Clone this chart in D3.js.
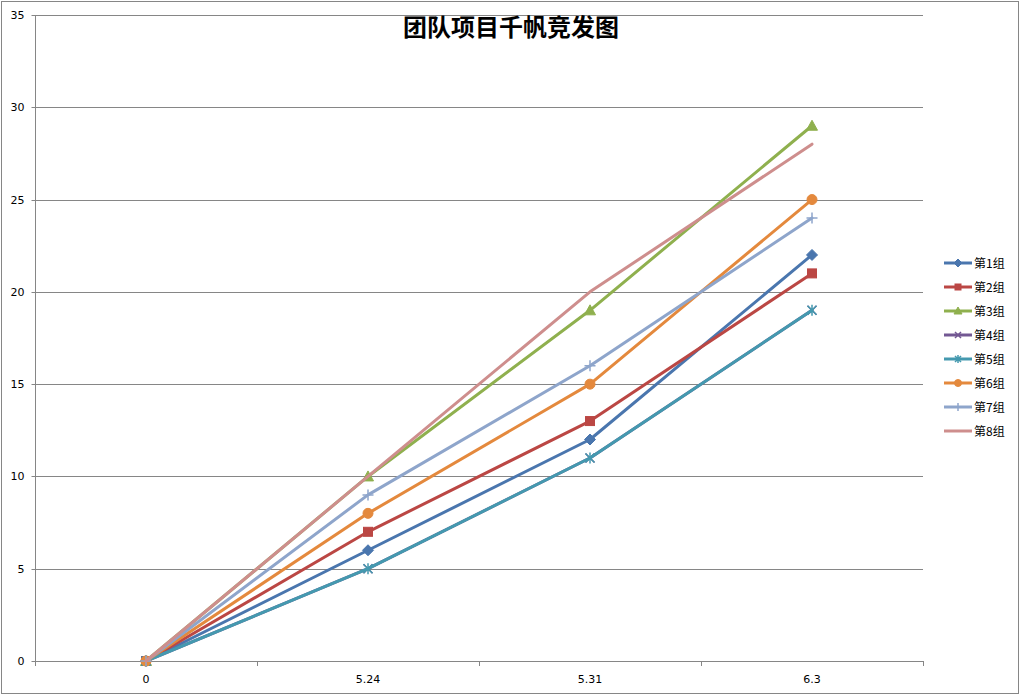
<!DOCTYPE html>
<html><head><meta charset="utf-8">
<script src="https://cdn.jsdelivr.net/npm/d3@7/dist/d3.min.js"></script>
<style>body{margin:0;background:#fff;}svg{display:block;}</style>
</head><body>
<svg id="c" width="1021" height="696"></svg>
<script>
const title = "团队项目千帆竞发图";
const categories = ["0", "5.24", "5.31", "6.3"];
const seriesNames = ["第1组","第2组","第3组","第4组","第5组","第6组","第7组","第8组"];
const g1 = [0, 6, 12, 22];
const g2 = [0, 7, 13, 21];
const g3 = [0, 10, 19, 29];
const g4 = [0, 5, 11, 19];
const g5 = [0, 5, 11, 19];
const g6 = [0, 8, 15, 25];
const g7 = [0, 9, 16, 24];
const g8 = [0, 10, 20, 28];
const yTicks = [0, 5, 10, 15, 20, 25, 30, 35];
const colors = ["#4A76AE","#BB4744","#8FB04E","#735893","#4499AF","#E4893D","#8EA5CB","#CE8E8D"];
const markers = ["diamond","square","triangle","x","star","circle","plus","none"];
const seriesValues = [g1,g2,g3,g4,g5,g6,g7,g8];

(function(){
const svg = d3.select("#c");
const W = 1021, H = 696;
svg.append("rect").attr("x",1.5).attr("y",1.5).attr("width",W-4).attr("height",H-4)
  .attr("fill","#fff").attr("stroke","#868686").attr("stroke-width",1);

const pL = 35, pR = 923, pT = 15, pB = 661;
const x = d3.scaleBand().domain(categories).range([pL, pR]);
const y = d3.scaleLinear().domain([0, 35]).range([pB, pT]);

svg.append("g").selectAll("line").data(yTicks.filter(d=>d>0)).join("line")
  .attr("x1", pL).attr("x2", pR)
  .attr("y1", d=>Math.round(y(d))+0.5).attr("y2", d=>Math.round(y(d))+0.5)
  .attr("stroke","#868686").attr("stroke-width",1);

const yAxis = svg.append("g").attr("transform",`translate(${pL+0.5},0)`)
  .call(d3.axisLeft(y).tickValues(yTicks).tickSize(4).tickPadding(7).tickFormat(d3.format("d")));
yAxis.select(".domain").attr("stroke","#868686").attr("d",`M0,${pT}V${pB}`);
yAxis.selectAll(".tick line").attr("stroke","#868686");
yAxis.selectAll(".tick").attr("transform", d=>`translate(0,${Math.round(y(d))+0.5})`);
yAxis.selectAll("text").attr("font-family","'DejaVu Sans', Verdana, sans-serif").attr("font-size",11).attr("fill","#000");

const xAxis = svg.append("g").attr("transform",`translate(0,${pB+0.5})`)
  .call(d3.axisBottom(x).tickSize(0).tickPadding(14));
xAxis.select(".domain").attr("stroke","#868686").attr("d",`M${pL},0H${pR}`);
xAxis.selectAll("text").attr("font-family","'DejaVu Sans', Verdana, sans-serif").attr("font-size",11).attr("fill","#000");
const bounds = categories.map(c=>x(c)).concat([pR]);
svg.append("g").selectAll("line").data(bounds).join("line")
  .attr("x1",d=>Math.round(d)+0.5).attr("x2",d=>Math.round(d)+0.5)
  .attr("y1",pB).attr("y2",pB+5).attr("stroke","#868686");

const cx = c => x(c) + x.bandwidth()/2;

function drawMarker(g, type, color, px, py, s) {
  const r = s/2;
  if (type === "diamond") {
    g.append("path").attr("d",`M${px},${py-r-1}L${px+r+1},${py}L${px},${py+r+1}L${px-r-1},${py}Z`).attr("fill",color).attr("stroke",color);
  } else if (type === "square") {
    g.append("rect").attr("x",px-r).attr("y",py-r).attr("width",s).attr("height",s).attr("fill",color).attr("stroke",color);
  } else if (type === "triangle") {
    g.append("path").attr("d",`M${px},${py-r-1}L${px+r+1},${py+r}L${px-r-1},${py+r}Z`).attr("fill",color).attr("stroke",color);
  } else if (type === "circle") {
    g.append("circle").attr("cx",px).attr("cy",py).attr("r",r+0.5).attr("fill",color).attr("stroke",color);
  } else if (type === "x") {
    g.append("path").attr("d",`M${px-r},${py-r}L${px+r},${py+r}M${px-r},${py+r}L${px+r},${py-r}`).attr("stroke",color).attr("stroke-width",1.5);
  } else if (type === "star") {
    g.append("path").attr("d",`M${px-r},${py-r}L${px+r},${py+r}M${px-r},${py+r}L${px+r},${py-r}M${px},${py-r-1}L${px},${py+r+1}`).attr("stroke",color).attr("stroke-width",1.5);
  } else if (type === "plus") {
    g.append("path").attr("d",`M${px-r-1},${py}L${px+r+1},${py}M${px},${py-r-1}L${px},${py+r+1}`).attr("stroke",color).attr("stroke-width",1.5);
  }
}

const line = d3.line().x((d,i)=>cx(categories[i])).y(d=>y(d));
seriesValues.forEach((vals, si) => {
  const g = svg.append("g");
  g.append("path").datum(vals).attr("d", line).attr("fill","none")
    .attr("stroke", colors[si]).attr("stroke-width",3).attr("stroke-linejoin","round").attr("stroke-linecap","round");
  vals.forEach((v,i)=> drawMarker(g, markers[si], colors[si], cx(categories[i]), y(v), 9));
});

svg.append("text").attr("x", 511).attr("y", 36).attr("text-anchor","middle")
  .attr("font-family","'Noto Sans CJK SC', sans-serif").attr("font-weight","bold").attr("font-size",24).attr("fill","#000")
  .text(title);

const lg = svg.append("g");
seriesNames.forEach((n, i) => {
  const ly = 263 + i*24;
  const gg = lg.append("g");
  gg.append("line").attr("x1",944).attr("x2",972).attr("y1",ly).attr("y2",ly).attr("stroke",colors[i]).attr("stroke-width",3);
  drawMarker(gg, markers[i], colors[i], 958, ly, 6);
  gg.append("text").attr("x",974).attr("y",ly+4.5).attr("font-family","'Noto Sans CJK SC', sans-serif").attr("font-size",12).attr("fill","#000").text(n);
});
})();
</script>
</body></html>
